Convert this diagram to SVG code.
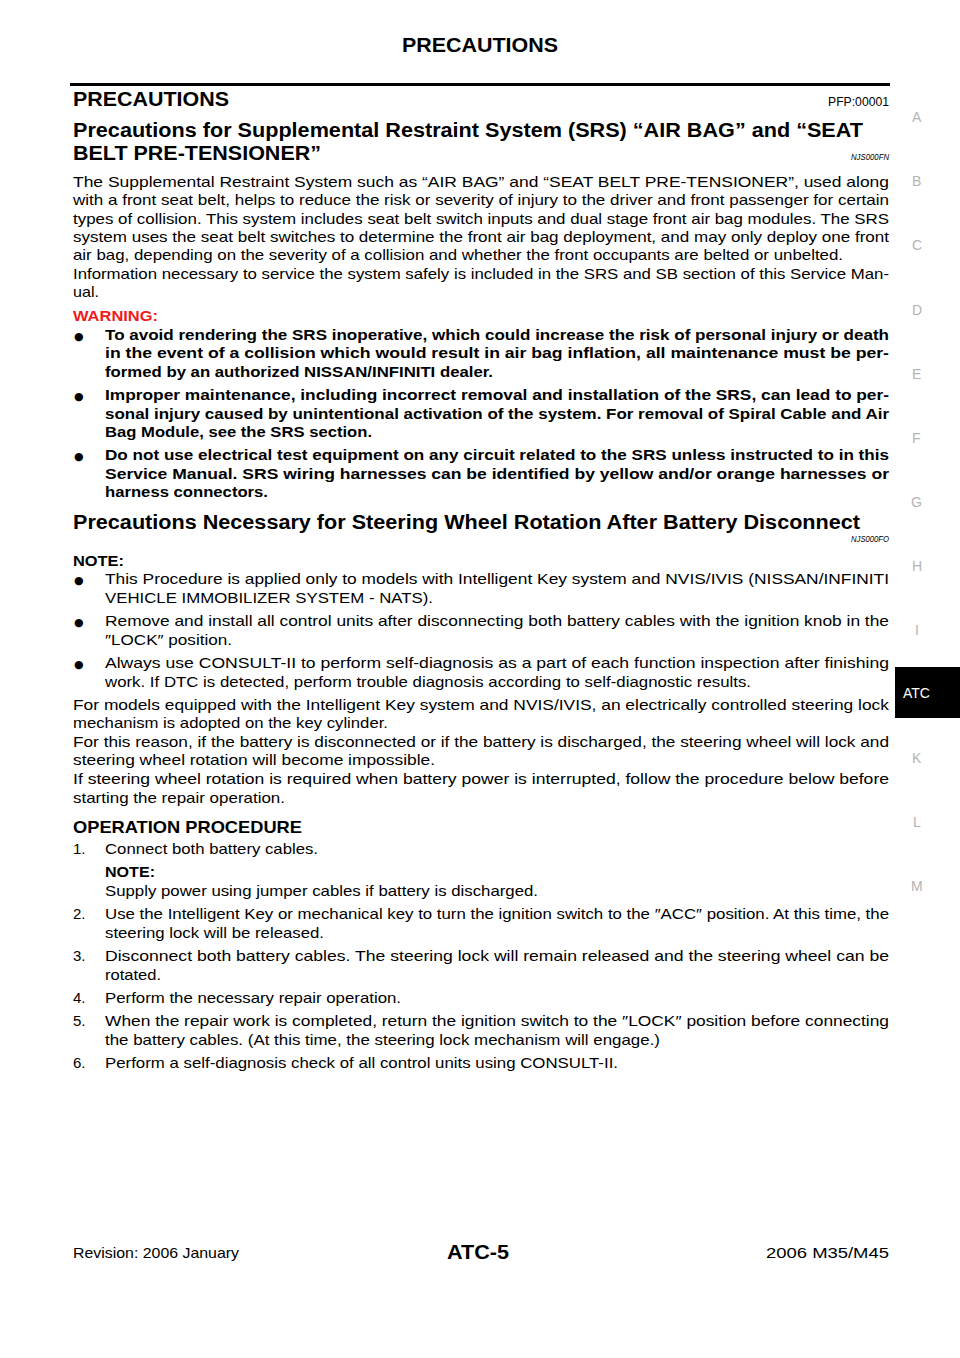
<svg xmlns="http://www.w3.org/2000/svg" width="960" height="1358" viewBox="0 0 960 1358">
<style>
text{font-family:"Liberation Sans",Arial,sans-serif;fill:#000}
.b{font-size:15px}
.bb{font-size:15px;font-weight:bold}
.h{font-size:20px;font-weight:bold}
.h2{font-size:17px;font-weight:bold}
.code{font-size:12px}
.ital{font-size:8.5px;font-style:italic}
.side{font-size:14px;fill:#b4b4b4}
.dot{font-family:"DejaVu Sans",sans-serif;font-size:11px}
.red{fill:#ee1c1c}
</style>
<rect width="960" height="1358" fill="#fff"/>

<g id="header">
<text class="h" x="402" y="52" textLength="156" lengthAdjust="spacingAndGlyphs">PRECAUTIONS</text>
<rect x="70" y="83" width="820" height="3" fill="#000"/>
</g>

<g id="side-index">
<text class="side" x="912" y="122">A</text>
<text class="side" x="912" y="186">B</text>
<text class="side" x="912" y="250">C</text>
<text class="side" x="912" y="315">D</text>
<text class="side" x="912" y="379">E</text>
<text class="side" x="912" y="443">F</text>
<text class="side" x="911" y="507">G</text>
<text class="side" x="912" y="571">H</text>
<text class="side" x="915" y="635">I</text>
<rect x="895" y="667" width="65" height="51" fill="#000"/>
<text x="903" y="698" style="font-size:14px;fill:#fff">ATC</text>
<text class="side" x="912" y="763">K</text>
<text class="side" x="913" y="827">L</text>
<text class="side" x="911" y="891">M</text>
</g>

<g id="section-srs">
<text class="h" x="73" y="106" textLength="156" lengthAdjust="spacingAndGlyphs">PRECAUTIONS</text>
<text class="code" x="828" y="106" textLength="61" lengthAdjust="spacingAndGlyphs">PFP:00001</text>
<text class="h" x="73" y="137" textLength="790" lengthAdjust="spacingAndGlyphs">Precautions for Supplemental Restraint System (SRS) “AIR BAG” and “SEAT</text>
<text class="h" x="73" y="160" textLength="248" lengthAdjust="spacingAndGlyphs">BELT PRE-TENSIONER”</text>
<text class="ital" x="851" y="160" textLength="38" lengthAdjust="spacingAndGlyphs">NJS000FN</text>

<text class="b" x="73" y="187" textLength="816" lengthAdjust="spacingAndGlyphs">The Supplemental Restraint System such as “AIR BAG” and “SEAT BELT PRE-TENSIONER”, used along</text>
<text class="b" x="73" y="205" textLength="816" lengthAdjust="spacingAndGlyphs">with a front seat belt, helps to reduce the risk or severity of injury to the driver and front passenger for certain</text>
<text class="b" x="73" y="224" textLength="816" lengthAdjust="spacingAndGlyphs">types of collision. This system includes seat belt switch inputs and dual stage front air bag modules. The SRS</text>
<text class="b" x="73" y="242" textLength="816" lengthAdjust="spacingAndGlyphs">system uses the seat belt switches to determine the front air bag deployment, and may only deploy one front</text>
<text class="b" x="73" y="260" textLength="770" lengthAdjust="spacingAndGlyphs">air bag, depending on the severity of a collision and whether the front occupants are belted or unbelted.</text>
<text class="b" x="73" y="279" textLength="816" lengthAdjust="spacingAndGlyphs">Information necessary to service the system safely is included in the SRS and SB section of this Service Man-</text>
<text class="b" x="73" y="297" textLength="26" lengthAdjust="spacingAndGlyphs">ual.</text>

<text class="bb red" x="73" y="321" textLength="85" lengthAdjust="spacingAndGlyphs">WARNING:</text>

<text class="dot" x="74" y="340">●</text>
<text class="bb" x="105" y="340" textLength="784" lengthAdjust="spacingAndGlyphs">To avoid rendering the SRS inoperative, which could increase the risk of personal injury or death</text>
<text class="bb" x="105" y="358" textLength="784" lengthAdjust="spacingAndGlyphs">in the event of a collision which would result in air bag inflation, all maintenance must be per-</text>
<text class="bb" x="105" y="377" textLength="388" lengthAdjust="spacingAndGlyphs">formed by an authorized NISSAN/INFINITI dealer.</text>

<text class="dot" x="74" y="400">●</text>
<text class="bb" x="105" y="400" textLength="784" lengthAdjust="spacingAndGlyphs">Improper maintenance, including incorrect removal and installation of the SRS, can lead to per-</text>
<text class="bb" x="105" y="419" textLength="784" lengthAdjust="spacingAndGlyphs">sonal injury caused by unintentional activation of the system. For removal of Spiral Cable and Air</text>
<text class="bb" x="105" y="437" textLength="267" lengthAdjust="spacingAndGlyphs">Bag Module, see the SRS section.</text>

<text class="dot" x="74" y="460">●</text>
<text class="bb" x="105" y="460" textLength="784" lengthAdjust="spacingAndGlyphs">Do not use electrical test equipment on any circuit related to the SRS unless instructed to in this</text>
<text class="bb" x="105" y="479" textLength="784" lengthAdjust="spacingAndGlyphs">Service Manual. SRS wiring harnesses can be identified by yellow and/or orange harnesses or</text>
<text class="bb" x="105" y="497" textLength="163" lengthAdjust="spacingAndGlyphs">harness connectors.</text>
</g>

<g id="section-steering">
<text class="h" x="73" y="529" textLength="787" lengthAdjust="spacingAndGlyphs">Precautions Necessary for Steering Wheel Rotation After Battery Disconnect</text>
<text class="ital" x="851" y="542" textLength="38" lengthAdjust="spacingAndGlyphs">NJS000FO</text>

<text class="bb" x="73" y="566" textLength="51" lengthAdjust="spacingAndGlyphs">NOTE:</text>

<text class="dot" x="74" y="584">●</text>
<text class="b" x="105" y="584" textLength="784" lengthAdjust="spacingAndGlyphs">This Procedure is applied only to models with Intelligent Key system and NVIS/IVIS (NISSAN/INFINITI</text>
<text class="b" x="105" y="603" textLength="328" lengthAdjust="spacingAndGlyphs">VEHICLE IMMOBILIZER SYSTEM - NATS).</text>

<text class="dot" x="74" y="626">●</text>
<text class="b" x="105" y="626" textLength="784" lengthAdjust="spacingAndGlyphs">Remove and install all control units after disconnecting both battery cables with the ignition knob in the</text>
<text class="b" x="105" y="645" textLength="127" lengthAdjust="spacingAndGlyphs">″LOCK″ position.</text>

<text class="dot" x="74" y="668">●</text>
<text class="b" x="105" y="668" textLength="784" lengthAdjust="spacingAndGlyphs">Always use CONSULT-II to perform self-diagnosis as a part of each function inspection after finishing</text>
<text class="b" x="105" y="687" textLength="646" lengthAdjust="spacingAndGlyphs">work. If DTC is detected, perform trouble diagnosis according to self-diagnostic results.</text>

<text class="b" x="73" y="710" textLength="816" lengthAdjust="spacingAndGlyphs">For models equipped with the Intelligent Key system and NVIS/IVIS, an electrically controlled steering lock</text>
<text class="b" x="73" y="728" textLength="315" lengthAdjust="spacingAndGlyphs">mechanism is adopted on the key cylinder.</text>
<text class="b" x="73" y="747" textLength="816" lengthAdjust="spacingAndGlyphs">For this reason, if the battery is disconnected or if the battery is discharged, the steering wheel will lock and</text>
<text class="b" x="73" y="765" textLength="362" lengthAdjust="spacingAndGlyphs">steering wheel rotation will become impossible.</text>
<text class="b" x="73" y="784" textLength="816" lengthAdjust="spacingAndGlyphs">If steering wheel rotation is required when battery power is interrupted, follow the procedure below before</text>
<text class="b" x="73" y="803" textLength="212" lengthAdjust="spacingAndGlyphs">starting the repair operation.</text>
</g>

<g id="section-procedure">
<text class="h2" x="73" y="833" textLength="229" lengthAdjust="spacingAndGlyphs">OPERATION PROCEDURE</text>

<text class="b" x="73" y="854">1.</text>
<text class="b" x="105" y="854" textLength="213" lengthAdjust="spacingAndGlyphs">Connect both battery cables.</text>
<text class="bb" x="105" y="877" textLength="50" lengthAdjust="spacingAndGlyphs">NOTE:</text>
<text class="b" x="105" y="896" textLength="433" lengthAdjust="spacingAndGlyphs">Supply power using jumper cables if battery is discharged.</text>

<text class="b" x="73" y="919">2.</text>
<text class="b" x="105" y="919" textLength="784" lengthAdjust="spacingAndGlyphs">Use the Intelligent Key or mechanical key to turn the ignition switch to the ″ACC″ position. At this time, the</text>
<text class="b" x="105" y="938" textLength="219" lengthAdjust="spacingAndGlyphs">steering lock will be released.</text>

<text class="b" x="73" y="961">3.</text>
<text class="b" x="105" y="961" textLength="784" lengthAdjust="spacingAndGlyphs">Disconnect both battery cables. The steering lock will remain released and the steering wheel can be</text>
<text class="b" x="105" y="980" textLength="56" lengthAdjust="spacingAndGlyphs">rotated.</text>

<text class="b" x="73" y="1003">4.</text>
<text class="b" x="105" y="1003" textLength="296" lengthAdjust="spacingAndGlyphs">Perform the necessary repair operation.</text>

<text class="b" x="73" y="1026">5.</text>
<text class="b" x="105" y="1026" textLength="784" lengthAdjust="spacingAndGlyphs">When the repair work is completed, return the ignition switch to the ″LOCK″ position before connecting</text>
<text class="b" x="105" y="1045" textLength="555" lengthAdjust="spacingAndGlyphs">the battery cables. (At this time, the steering lock mechanism will engage.)</text>

<text class="b" x="73" y="1068">6.</text>
<text class="b" x="105" y="1068" textLength="513" lengthAdjust="spacingAndGlyphs">Perform a self-diagnosis check of all control units using CONSULT-II.</text>
</g>

<g id="footer">
<text class="b" x="73" y="1258" textLength="166" lengthAdjust="spacingAndGlyphs">Revision: 2006 January</text>
<text class="h" x="447" y="1259" textLength="62" lengthAdjust="spacingAndGlyphs">ATC-5</text>
<text class="b" x="766" y="1258" textLength="123" lengthAdjust="spacingAndGlyphs">2006 M35/M45</text>
</g>
</svg>
